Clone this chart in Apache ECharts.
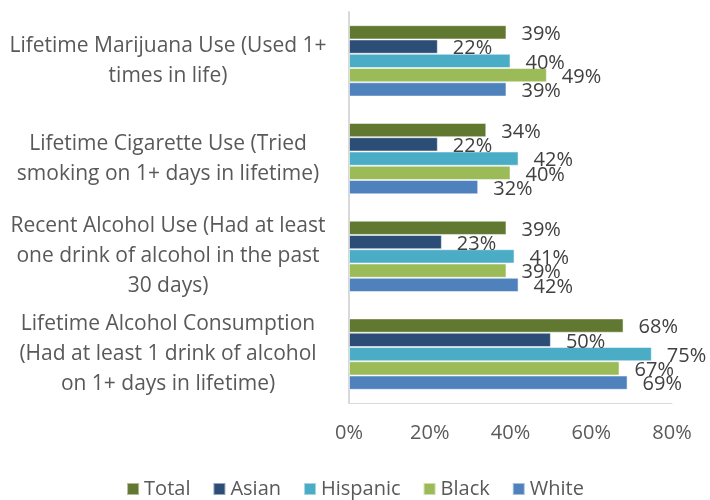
<!DOCTYPE html>
<html>
<head>
<meta charset="utf-8">
<script src="https://cdn.jsdelivr.net/npm/echarts@6/dist/echarts.min.js"></script>
<style>
  html, body { margin: 0; padding: 0; background: #fff; }
</style>
</head>
<body>
<div id="chart" style="width: 710px; height: 500px;"></div>
<script>
// categories bottom -> top
var categories = [
  "Lifetime Alcohol Consumption\n(Had at least 1 drink of alcohol\non 1+ days in lifetime)",
  "Recent Alcohol Use (Had at least\none drink of alcohol in the past\n30 days)",
  "Lifetime Cigarette Use (Tried\nsmoking on 1+ days in lifetime)",
  "Lifetime Marijuana Use (Used 1+\ntimes in life)"
];
var white    = [69, 42, 32, 39];
var black    = [67, 39, 40, 49];
var hispanic = [75, 41, 42, 40];
var asian    = [50, 23, 22, 22];
var total    = [68, 39, 34, 39];
var xTicks = [0, 20, 40, 60, 80];

var font = "'Open Sans', sans-serif";

function bar(name, data, color) {
  return {
    name: name,
    type: "bar",
    data: data,
    barGap: "0%",
    barCategoryGap: "27%",
    itemStyle: { color: color, borderColor: "rgba(255,255,255,0.5)", borderWidth: 1 },
    label: {
      show: true,
      position: "right",
      distance: 15,
      offset: [0, 2],
      formatter: "{c}%",
      color: "#404040",
      fontSize: 20,
      fontFamily: font
    }
  };
}

var myChart = echarts.init(document.getElementById("chart"));
var option = {
  animation: false,
  grid: { left: 349, right: 38, top: 12, bottom: 97 },
  legend: {
    data: ["Total", "Asian", "Hispanic", "Black", "White"],
    top: 474,
    left: "center",
    icon: "rect",
    itemWidth: 12,
    itemHeight: 12,
    itemGap: 22,
    textStyle: { color: "#595959", fontSize: 20, fontFamily: font }
  },
  xAxis: {
    type: "value",
    min: xTicks[0],
    max: xTicks[xTicks.length - 1],
    interval: 20,
    splitLine: { show: false },
    axisLine: { show: true, lineStyle: { color: "#d9d9d9", width: 1 } },
    axisTick: { show: false },
    axisLabel: {
      formatter: "{value}%",
      color: "#595959",
      fontSize: 20,
      fontFamily: font,
      margin: 20
    }
  },
  yAxis: {
    type: "category",
    data: categories,
    axisLine: { show: true, lineStyle: { color: "#d9d9d9", width: 2 } },
    axisTick: { show: false },
    axisLabel: {
      interval: 0,
      color: "#595959",
      fontSize: 21,
      fontFamily: font,
      lineHeight: 30,
      align: "center",
      padding: [8, 0, 0, 0],
      margin: 181
    }
  },
  series: [
    bar("Total", total, "#607830"),
    bar("Asian", asian, "#2c4d75"),
    bar("Hispanic", hispanic, "#4bacc6"),
    bar("Black", black, "#9bbb59"),
    bar("White", white, "#4f81bd")
  ]
};
myChart.setOption(option);
</script>
</body>
</html>
